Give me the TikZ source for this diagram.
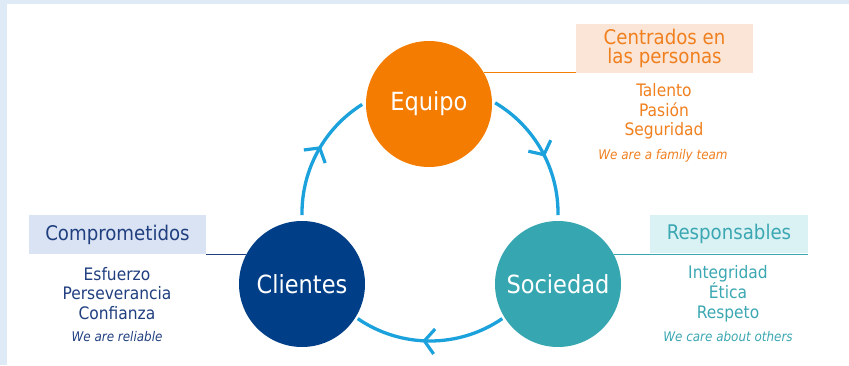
\documentclass[tikz,border=0pt]{standalone}
\usepackage{fontspec}
\setmainfont{DejaVu Sans Condensed}
\usetikzlibrary{arrows.meta,decorations.markings}
\definecolor{frame}{HTML}{DEEAF6}
\definecolor{flowblue}{HTML}{1BA1DC}
\definecolor{eqorange}{HTML}{F47C00}
\definecolor{eqpeach}{HTML}{FBE5D6}
\definecolor{eqtext}{HTML}{F07F1E}
\definecolor{clblue}{HTML}{003F88}
\definecolor{clpale}{HTML}{DAE3F3}
\definecolor{cltext}{HTML}{203F7F}
\definecolor{soteal}{HTML}{36A6B1}
\definecolor{sopale}{HTML}{DBF2F4}
\definecolor{sotext}{HTML}{3AA7B2}
\tikzset{
  hub/.style={circle, minimum size=126pt, inner sep=0pt, text=white,
    font=\fontsize{25}{28}\selectfont},
  tag/.style={inner sep=0pt, align=center, font=\fontsize{20.2}{19}\selectfont},
  vals/.style={align=center, font=\fontsize{17.2}{19.3}\selectfont},
  motto/.style={font=\fontsize{13.3}{15}\selectfont\itshape},
  link/.style={line width=1.2pt},
  flow/.style={draw=flowblue, line width=3.3pt, postaction={decorate},
    decoration={markings, mark=at position 0.55 with
      {\arrow{Straight Barb[length=10pt,width=25pt,line width=3.2pt]}}}}
}
\begin{document}
\begin{tikzpicture}[x=1pt,y=1pt]
  \useasboundingbox (0,0) rectangle (849,365);
  \fill[frame] (0,361) rectangle (849,365);
  \fill[frame] (0,0) rectangle (7,365);
  \draw
    (429,261) node[hub, fill=eqorange] (eq){Equipo}
    (302,81) node[hub, fill=clblue] (cl){Clientes}
    (558,81) node[hub, fill=soteal] (so){Sociedad};
  \coordinate (cyc) at (430,152);
  % labels
  \node[tag, fill=eqpeach, text=eqtext, minimum width=177pt, minimum height=49pt]
    (cen) at (664.5,316.5) {Centrados en\\las personas};
  \node[vals, text=eqtext] (cenv) at (664,253.5) {Talento\\Pasión\\Seguridad};
  \node[motto, text=eqtext] (cenm) at (663,209) {We are a family team};
  \node[tag, fill=clpale, text=cltext, minimum width=177pt, minimum height=39pt]
    (com) at (117.5,130.5) {Comprometidos};
  \node[vals, text=cltext] (comv) at (117,71.5) {Esfuerzo\\Perseverancia\\Confianza};
  \node[motto, text=cltext] (comm) at (117,28) {We are reliable};
  \node[tag, fill=sopale, text=sotext, minimum width=158pt, minimum height=38pt]
    (res) at (729,131) {Responsables};
  \node[vals, text=sotext] (resv) at (728,71.5) {Integridad\\Ética\\Respeto};
  \node[motto, text=sotext] (resm) at (728,28) {We care about others};
  \begin{scope}[link]
    \draw[eqorange] (eq.30) -- (eq.30 -| cen.west);
    \draw[cltext] (cl.152) -- (cl.152 -| com.east);
    \draw[sotext] (so.28) -- (so.28 -| res.east);
  \end{scope}
  % cycle
  \draw[flow] (cyc) ++(59.4:128pt) arc[start angle=59.4, end angle=-1, radius=128pt];
  \draw[flow] (cyc) ++(-55.6:128pt) arc[start angle=-55.6, end angle=-124.4, radius=128pt];
  \draw[flow] (cyc) ++(181:128pt) arc[start angle=181, end angle=122, radius=128pt];
\end{tikzpicture}
\end{document}
